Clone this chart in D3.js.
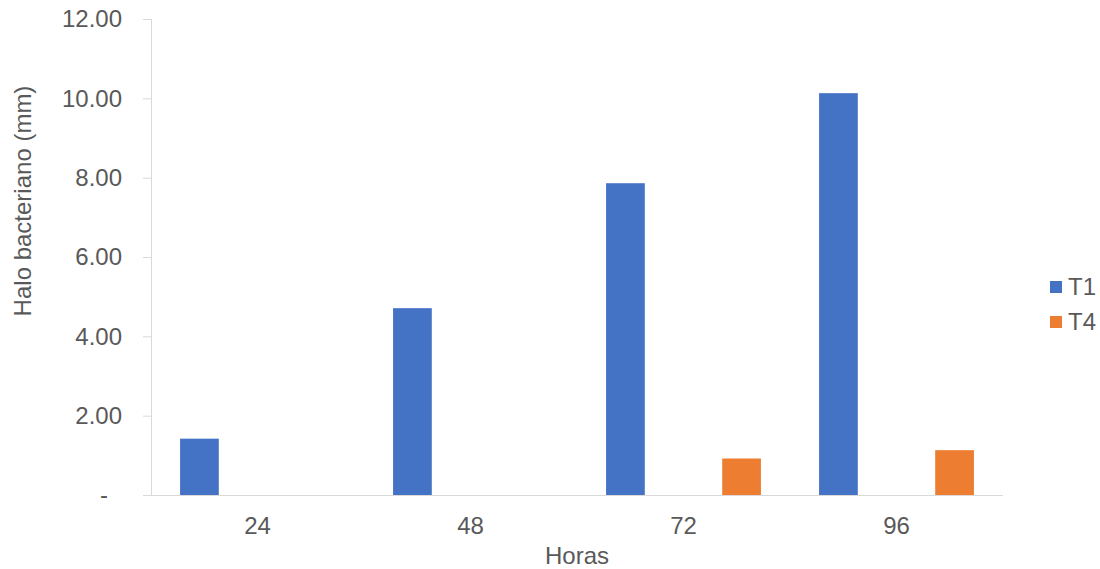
<!DOCTYPE html>
<html><head><meta charset="utf-8">
<script src="https://cdn.jsdelivr.net/npm/d3@7"></script>
<style>body{margin:0;background:#fff}svg{display:block}text{font-family:"Liberation Sans",Arial,sans-serif;fill:#595959}</style>
</head><body>
<script>
const categories = ["24","48","72","96"];
const seriesNames = ["T1","T2","T3","T4"];
const shownSeries = ["T1","T4"];
const T1 = [1.42, 4.71, 7.86, 10.13];
const T4 = [0, 0, 0.92, 1.13];
const yTicks = [0,2,4,6,8,10,12];
const yTickLabels = ["-","2.00","4.00","6.00","8.00","10.00","12.00"];
const colors = {T1:"#4472C4", T4:"#ED7D31"};
const values = {T1, T4};

(function(){
const W=1100,H=569;
const svg=d3.select("body").append("svg").attr("width",W).attr("height",H);
const pl=151,pr=1003,pt=19,pb=495;
const x0=d3.scaleBand().domain(categories).range([pl,pr]).paddingInner(0.273).paddingOuter(0.1365);
const x1=d3.scaleBand().domain(seriesNames).range([0,x0.bandwidth()]);
const y=d3.scaleLinear().domain([0,12]).range([pb,pt]);
const axisColor="#d9d9d9";

// y axis
const ya=svg.append("g").attr("transform",`translate(${pl},0)`)
  .call(d3.axisLeft(y).tickValues(yTicks).tickSize(8).tickPadding(21).tickFormat((d,i)=>yTickLabels[i]));
ya.select(".domain").attr("stroke",axisColor).attr("d",`M0.5,${pt}V${pb}`);
ya.selectAll(".tick line").attr("stroke",axisColor);
ya.selectAll(".tick text").attr("font-size",24).attr("fill","#595959").attr("font-family","Liberation Sans, Arial, sans-serif");
ya.selectAll(".tick text").filter(d=>d===0).attr("dx",-14);

// x axis
const xa=svg.append("g").attr("transform",`translate(0,${pb})`)
  .call(d3.axisBottom(x0).tickSize(0).tickPadding(22));
xa.select(".domain").attr("stroke",axisColor).attr("d",`M${pl},0.5H${pr}`);
xa.selectAll(".tick text").attr("font-size",24).attr("fill","#595959").attr("font-family","Liberation Sans, Arial, sans-serif");

// bars
categories.forEach((c,i)=>{
  shownSeries.forEach(s=>{
    const v=values[s][i];
    if(v>0) svg.append("rect").attr("x",x0(c)+x1(s)).attr("width",x1.bandwidth())
      .attr("y",y(v)).attr("height",y(0)-y(v)).attr("fill",colors[s]);
  });
});

// titles
svg.append("text").attr("x",(pl+pr)/2).attr("y",564).attr("text-anchor","middle").attr("font-size",24).text("Horas");
svg.append("text").attr("transform","translate(31,201) rotate(-90)").attr("text-anchor","middle").attr("font-size",24).text("Halo bacteriano (mm)");

// legend
shownSeries.forEach((s,i)=>{
  const g=svg.append("g").attr("transform",`translate(1050,${281+i*35})`);
  g.append("rect").attr("width",12).attr("height",12).attr("fill",colors[s]);
  g.append("text").attr("x",18).attr("y",6).attr("dy","0.35em").attr("font-size",24).text(s);
});
})();
</script>
</body></html>
